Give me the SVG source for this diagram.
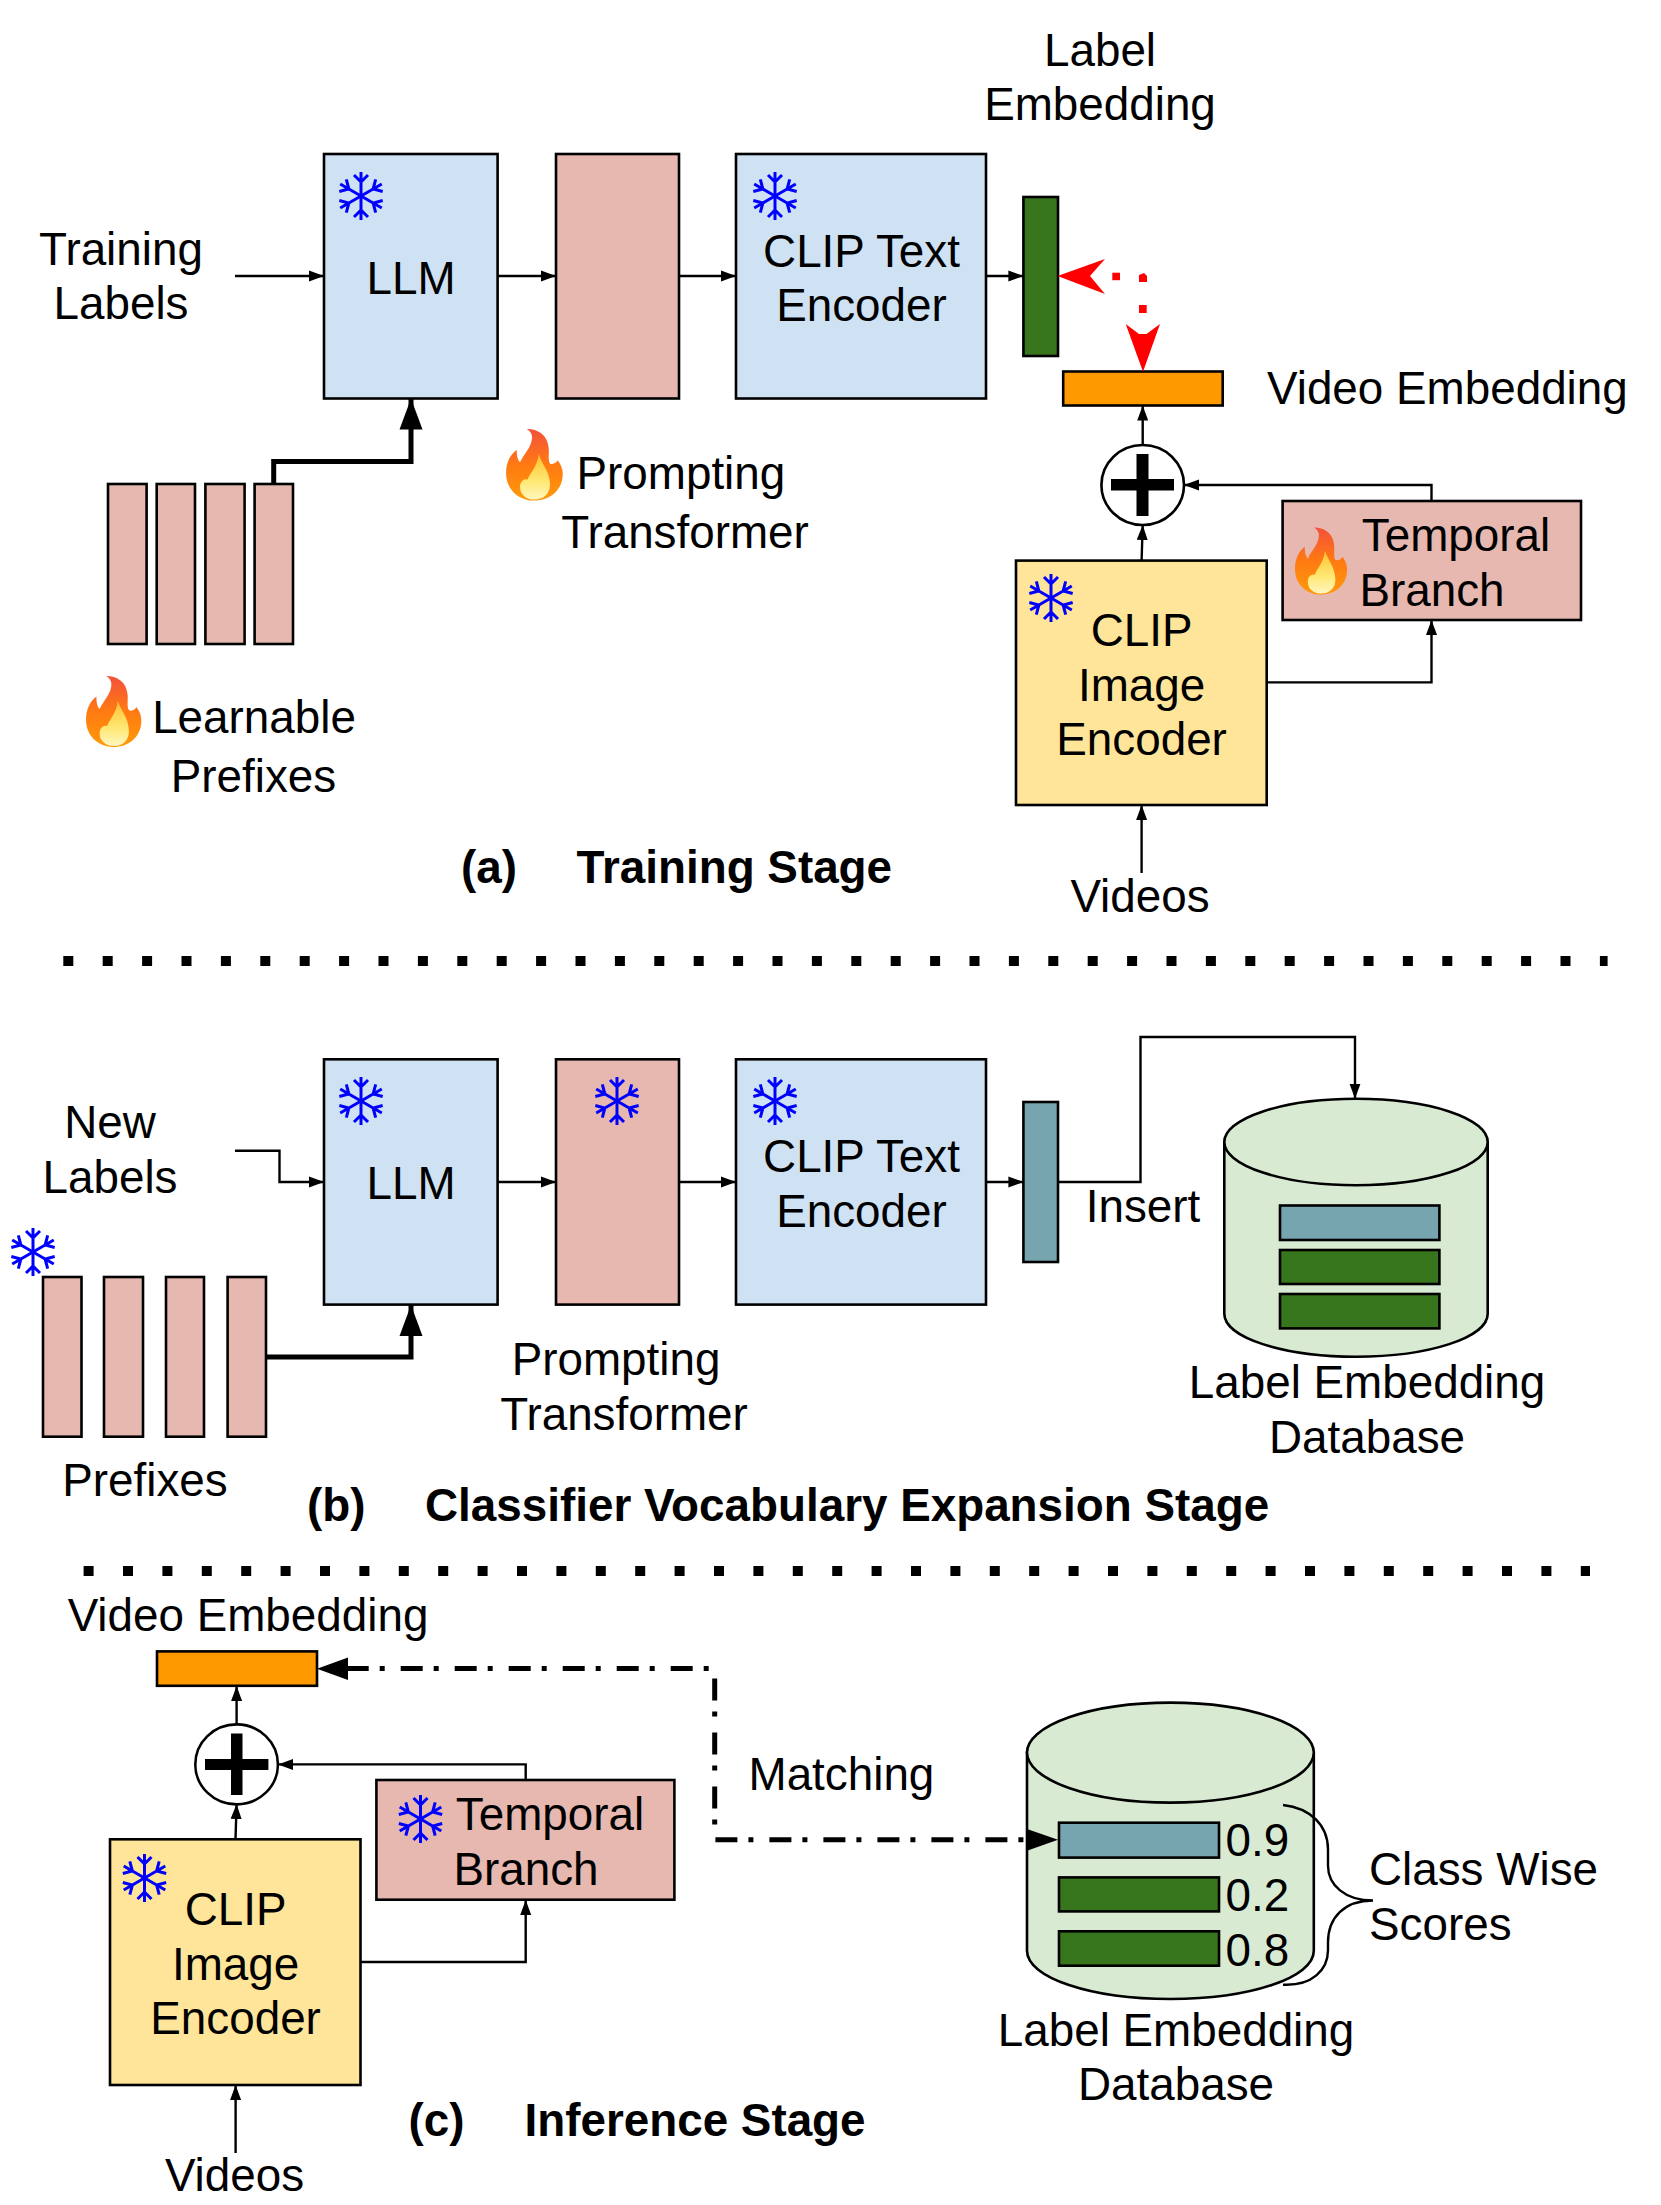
<svg xmlns="http://www.w3.org/2000/svg" xmlns:xlink="http://www.w3.org/1999/xlink" width="1661" height="2205" viewBox="0 0 1661 2205">
<style>
text{font-family:"Liberation Sans",Arial,sans-serif;font-size:45.800px;fill:#000;transform:translateY(1px)}
.m{text-anchor:middle}
.b{font-weight:bold}
.box{stroke:#000;stroke-width:2.6}
.blue{fill:#cfe2f3}.pink{fill:#e6b8af}.yellow{fill:#ffe599}.green{fill:#38761d}.teal{fill:#76a5af}.orange{fill:#f90}.db{fill:#d9ead3}
.c{fill:none;stroke:#000;stroke-width:2.4;marker-end:url(#a)}
.t{fill:none;stroke:#000;stroke-width:5;marker-end:url(#A)}
.dots{fill:none;stroke:#000;stroke-width:10;stroke-dasharray:10 29.4}
.dd{fill:none;stroke:#000;stroke-width:5;stroke-dasharray:22 11 5 16}
.circ{fill:#fff;stroke:#000;stroke-width:2.6}
.arm{fill:none;stroke:#00f;stroke-width:3}
</style>
<defs>
<marker id="a" markerUnits="userSpaceOnUse" markerWidth="16" markerHeight="12" refX="15" refY="6" orient="auto"><path d="M0 .5L15 6L0 11.5z" fill="#000"/></marker>
<marker id="A" markerUnits="userSpaceOnUse" markerWidth="32" markerHeight="24" refX="31" refY="12" orient="auto"><path d="M0 .5L31 12L0 23.500z" fill="#000"/></marker>
<linearGradient id="fo" x1="0" y1="0" x2="0" y2="1"><stop offset="0" stop-color="#f4513a"/><stop offset=".5" stop-color="#ff7a12"/><stop offset="1" stop-color="#ff9a0a"/></linearGradient>
<linearGradient id="fi" x1="0" y1="0" x2="0" y2="1"><stop offset="0" stop-color="#ffc02e"/><stop offset=".6" stop-color="#ffe874"/><stop offset="1" stop-color="#fff6c0"/></linearGradient>
<g id="arm"><path class="arm" d="M0 0V-24M-7 -21L0 -14L7 -21"/></g>
<g id="snow"><use href="#arm"/><use href="#arm" transform="rotate(60)"/><use href="#arm" transform="rotate(120)"/><use href="#arm" transform="rotate(180)"/><use href="#arm" transform="rotate(240)"/><use href="#arm" transform="rotate(300)"/></g>
<g id="flame"><path fill="url(#fo)" d="M142 88C175 88 205 105 208 145C210 165 205 180 212 192C222 195 232 190 235 182C245 195 252 210 250 230C247 272 212 303 165 303C118 303 80 270 80 220C80 190 92 165 112 150C112 170 115 180 122 188C132 165 160 140 158 110C157 100 150 92 142 88Z"/><path fill="url(#fi)" d="M178 163C185 190 212 215 212 255C212 285 190 300 167 300C140 300 122 285 122 262C122 245 135 235 145 240C150 222 175 200 178 163Z"/></g>
</defs>
<rect width="1661" height="2205" fill="#fff"/>

<g id="a-training-labels"><text class="m" x="121" y="263.500">Training</text><text class="m" x="121" y="317.500">Labels</text></g>
<g id="a-llm"><rect class="box blue" x="324" y="154" width="173.600" height="244.500"/><use href="#snow" x="361" y="196"/><text class="m" x="411" y="293">LLM</text></g>
<g id="a-prompting-transformer"><rect class="box pink" x="556" y="154" width="123" height="244.500"/></g>
<g id="a-prompting-label"><use href="#flame" transform="translate(479.400 399.700) scale(.333)"/><text x="576.500" y="488">Prompting</text><text class="m" x="685" y="547">Transformer</text></g>
<g id="a-clip-text"><rect class="box blue" x="736" y="154" width="250" height="244.500"/><use href="#snow" x="775" y="196"/><text class="m" x="861.500" y="266">CLIP Text</text><text class="m" x="861.500" y="320">Encoder</text></g>
<g id="a-prefixes"><rect class="box pink" x="108" y="484" width="38.600" height="160"/><rect class="box pink" x="156.700" y="484" width="38.300" height="160"/><rect class="box pink" x="205.400" y="484" width="39.200" height="160"/><rect class="box pink" x="254.600" y="484" width="38.400" height="160"/></g>
<g id="a-prefixes-label"><use href="#flame" transform="translate(60 647) scale(.325 .33)"/><text class="m" x="254" y="732">Learnable</text><text class="m" x="253.500" y="791">Prefixes</text></g>
<g id="a-label-embedding"><rect class="box green" x="1023.400" y="197" width="34.600" height="159"/><text class="m" x="1100" y="65">Label</text><text class="m" x="1100" y="119">Embedding</text></g>
<g id="a-video-embedding"><rect class="box orange" x="1063.200" y="371.500" width="159.500" height="34"/><text x="1267" y="403">Video Embedding</text></g>
<g id="a-plus"><ellipse class="circ" cx="1142.700" cy="485" rx="41.300" ry="40"/><path d="M1136.500 454H1148.500V479H1174V490.500H1148.500V516H1136.500V490.500H1111V479H1136.500z"/></g>
<g id="a-temporal"><rect class="box pink" x="1282.600" y="501" width="298.400" height="119"/><use href="#flame" transform="translate(1270.500 500) scale(.306 .312)"/><text class="m" x="1456" y="550">Temporal</text><text class="m" x="1432" y="605">Branch</text></g>
<g id="a-clip-image"><rect class="box yellow" x="1016" y="560.600" width="250.700" height="244.400"/><use href="#snow" x="1051" y="598"/><text class="m" x="1141.600" y="645">CLIP</text><text class="m" x="1141.600" y="699.500">Image</text><text class="m" x="1141.600" y="754">Encoder</text></g>
<g id="a-videos"><text class="m" x="1140" y="911">Videos</text></g>
<g id="a-title"><text class="b" x="461" y="882">(a)</text><text class="b" x="576.500" y="882">Training Stage</text></g>

<g id="b-new-labels"><text class="m" x="110" y="1137">New</text><text class="m" x="110" y="1192">Labels</text></g>
<g id="b-llm"><rect class="box blue" x="324" y="1059.300" width="173.600" height="245.300"/><use href="#snow" x="361" y="1101"/><text class="m" x="411" y="1198">LLM</text></g>
<g id="b-prompting-transformer"><rect class="box pink" x="556" y="1059.300" width="123" height="245.300"/><use href="#snow" x="617" y="1101"/></g>
<g id="b-prompting-label"><text class="m" x="616" y="1373.500">Prompting</text><text class="m" x="624" y="1428.600">Transformer</text></g>
<g id="b-clip-text"><rect class="box blue" x="736" y="1059.300" width="250" height="245.300"/><use href="#snow" x="775" y="1101"/><text class="m" x="861.500" y="1171">CLIP Text</text><text class="m" x="861.500" y="1226">Encoder</text></g>
<g id="b-prefixes"><use href="#snow" x="33" y="1252"/><rect class="box pink" x="43" y="1277" width="38.500" height="159.700"/><rect class="box pink" x="104" y="1277" width="39" height="159.700"/><rect class="box pink" x="166" y="1277" width="38" height="159.700"/><rect class="box pink" x="227.600" y="1277" width="38.400" height="159.700"/><text class="m" x="145" y="1494.500">Prefixes</text></g>
<g id="b-embedding"><rect class="box teal" x="1023.400" y="1102" width="34.600" height="160"/></g>
<g id="b-insert"><text class="m" x="1143" y="1221">Insert</text></g>
<g id="b-database"><path class="box db" d="M1224.300 1142V1313.800C1224.300 1337.500 1283 1356.700 1356 1356.700S1487.700 1337.500 1487.700 1313.800V1142z"/><ellipse class="box db" cx="1356" cy="1142" rx="131.700" ry="43.200"/><rect class="box teal" x="1280" y="1205.500" width="159.400" height="34.500"/><rect class="box green" x="1280" y="1250" width="159.400" height="34"/><rect class="box green" x="1280" y="1294" width="159.400" height="34.400"/><text class="m" x="1367" y="1396.500">Label Embedding</text><text class="m" x="1367" y="1451.600">Database</text></g>
<g id="b-title"><text class="b" x="307" y="1519.500">(b)</text><text class="b" x="425" y="1519.500">Classifier Vocabulary Expansion Stage</text></g>

<g id="c-video-embedding"><text class="m" x="248" y="1630">Video Embedding</text><rect class="box orange" x="157" y="1651.400" width="160" height="34.400"/></g>
<g id="c-plus"><ellipse class="circ" cx="236.600" cy="1764.400" rx="41.300" ry="40"/><path d="M231 1733.600H242.500V1759H268.400V1770H242.500V1795H231V1770H205V1759H231z"/></g>
<g id="c-temporal"><rect class="box pink" x="376.400" y="1780" width="298" height="119.700"/><use href="#snow" x="420.500" y="1819"/><text class="m" x="550" y="1829">Temporal</text><text class="m" x="526" y="1884">Branch</text></g>
<g id="c-clip-image"><rect class="box yellow" x="110" y="1839.300" width="250.500" height="245.700"/><use href="#snow" x="144.500" y="1878"/><text class="m" x="235.600" y="1924.400">CLIP</text><text class="m" x="235.600" y="1978.500">Image</text><text class="m" x="235.600" y="2033">Encoder</text></g>
<g id="c-videos"><text class="m" x="234.500" y="2190">Videos</text></g>
<g id="c-matching"><text x="748.500" y="1788.700">Matching</text></g>
<g id="c-database"><path class="box db" d="M1027 1752.600V1950.700C1027 1977.800 1091 1999 1170.400 1999S1313.800 1977.800 1313.800 1950.700V1752.600z"/><ellipse class="box db" cx="1170.400" cy="1752.600" rx="143.400" ry="50"/><rect class="box teal" x="1059" y="1822.700" width="160" height="34.900"/><rect class="box green" x="1059" y="1877.400" width="160" height="34"/><rect class="box green" x="1059" y="1931.300" width="160" height="34.400"/><text x="1225.500" y="1855">0.9</text><text x="1225.500" y="1910">0.2</text><text x="1225.500" y="1964.500">0.8</text><text class="m" x="1172" y="2044.700" dx="4">Label Embedding</text><text class="m" x="1172" y="2098.600" dx="4">Database</text></g>
<g id="c-scores"><path fill="none" stroke="#000" stroke-width="2.400" d="M1283 1805C1310 1808 1328 1825 1328 1849.500V1865.700C1328 1885 1345 1900.500 1373 1900.500C1345 1900.500 1328 1917 1328 1942.600V1950C1328 1970 1312 1986 1283 1984.700"/><text x="1369" y="1884">Class Wise</text><text x="1369" y="1939">Scores</text></g>
<g id="c-title"><text class="b" x="408.500" y="2135">(c)</text><text class="b" x="524.500" y="2135">Inference Stage</text></g>

<g id="connectors">
<path class="c" d="M235 276H324"/>
<path class="c" d="M497.600 276H556"/>
<path class="c" d="M679 276H736"/>
<path class="c" d="M986 276H1023.400"/>
<path class="t" d="M273.700 484V461.500H411V398.500"/>
<g id="similarity" fill="#f00">
<path d="M1057.500 276L1105 259L1090 276L1105 294z"/>
<path d="M1143 371.700L1125.700 324L1139 334H1146.500L1160 324z"/>
<rect x="1112.300" y="272.700" width="7.700" height="7.500"/>
<path d="M1139 282V275L1144 273L1147 276V282z"/>
<rect x="1139" y="305" width="7.700" height="8"/>
</g>
<path class="c" d="M1142.700 445V405.500"/>
<path class="c" d="M1141.600 560.600L1142.700 525"/>
<path class="c" d="M1431.500 501V485H1184"/>
<path class="c" d="M1266.700 682.400H1431.500V620"/>
<path class="c" d="M1141.600 873V805"/>
<path class="dots" d="M63.300 961H1607.600"/>

<path class="c" d="M235 1150.800H279.500V1182H324"/>
<path class="c" d="M497.600 1182H556"/>
<path class="c" d="M679 1182H736"/>
<path class="c" d="M986 1182H1023.400"/>
<path class="t" d="M266 1357H411V1305"/>
<path class="c" d="M1058 1182H1140.500V1037H1355V1098.700"/>
<path class="dots" d="M83.600 1571H1590"/>

<path class="dd" d="M346.700 1668.400H714.700V1839.700H1030"/>
<path d="M317 1668.700L348 1657.500V1680z" fill="#000"/>
<path d="M1058 1839.700L1027 1829V1850.700z" fill="#000"/>
<path class="c" d="M236.600 1724V1686"/>
<path class="c" d="M235.500 1839.300L236.600 1804"/>
<path class="c" d="M525.700 1780V1764.400H278"/>
<path class="c" d="M360.500 1962H525.700V1900"/>
<path class="c" d="M235.600 2153V2085"/>
</g>
</svg>
